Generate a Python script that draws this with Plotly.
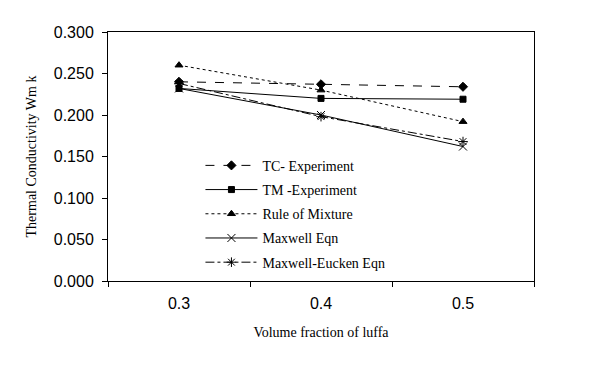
import plotly.graph_objects as go

categories = ["0.3", "0.4", "0.5"]
tc_experiment = [0.240, 0.237, 0.234]
tm_experiment = [0.232, 0.220, 0.219]
rule_of_mixture = [0.260, 0.230, 0.192]
maxwell = [0.232, 0.200, 0.162]
maxwell_eucken = [0.238, 0.198, 0.168]
y_ticks = [0.0, 0.05, 0.1, 0.15, 0.2, 0.25, 0.3]
y_tick_labels = ["0.000", "0.050", "0.100", "0.150", "0.200", "0.250", "0.300"]

series = [
    ("TC- Experiment", tc_experiment, "dash", "diamond", 7),
    ("TM -Experiment", tm_experiment, "solid", "square", 6),
    ("Rule of Mixture", rule_of_mixture, "dot", "triangle-up", 7),
    ("Maxwell Eqn", maxwell, "solid", "x-thin-open", 8),
    ("Maxwell-Eucken Eqn", maxwell_eucken, "dashdot", "asterisk-open", 8),
]

fig = go.Figure()
for i, (name, vals, dash, sym, size) in enumerate(series):
    fig.add_trace(go.Scatter(
        x=categories, y=vals, name=name, mode="lines+markers",
        line=dict(color="black", width=1, dash=dash),
        marker=dict(symbol=sym, size=size, color="black",
                    line=dict(color="black", width=1)),
        legendgroup=f"g{i}",
    ))

fig.update_layout(
    width=595, height=383,
    margin=dict(l=100, r=69, t=24, b=110),
    paper_bgcolor="white", plot_bgcolor="white",
    font=dict(family="Liberation Serif", color="black", size=14),
    showlegend=True,
    legend=dict(x=0.217, y=0.527, xanchor="left", yanchor="top",
                bgcolor="rgba(0,0,0,0)", itemwidth=52, tracegroupgap=3,
                font=dict(family="Liberation Serif", size=14)),
)
fig.update_xaxes(
    type="category", range=[-0.5, 2.5], showline=True, linecolor="black",
    linewidth=1, mirror=True, ticks="outside", tickson="boundaries",
    ticklen=5, tickcolor="black", showgrid=False, automargin=False,
    ticklabelstandoff=8,
    tickfont=dict(family="Liberation Sans", size=16),
    title=dict(text="Volume fraction of luffa", standoff=15,
               font=dict(family="Liberation Serif", size=14)),
)
fig.update_yaxes(
    range=[0, 0.3], tickvals=y_ticks, ticktext=y_tick_labels,
    showline=True, linecolor="black", linewidth=1, mirror=True,
    ticks="outside", ticklen=5, tickcolor="black", showgrid=False,
    zeroline=False, automargin=False, ticklabelstandoff=5,
    tickfont=dict(family="Liberation Sans", size=16),
    title=dict(text="Thermal Conductivity Wm k", standoff=13,
               font=dict(family="Liberation Serif", size=14)),
)

fig.write_html("out.html")
